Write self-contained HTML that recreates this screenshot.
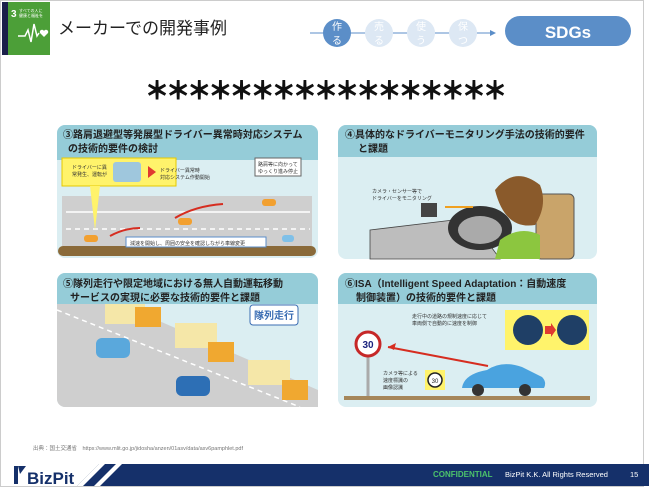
<!DOCTYPE html>
<html><head><meta charset="utf-8"><style>
body{margin:0;width:650px;height:488px;overflow:hidden;background:#fff;font-family:"Liberation Sans","Noto Sans CJK JP",sans-serif}
svg text{font-family:"Liberation Sans","Noto Sans CJK JP",sans-serif}
</style></head><body>
<svg width="650" height="488" viewBox="0 0 650 488">
<rect x="0.5" y="0.5" width="643" height="486" fill="#fff" stroke="#ccc"/>
<rect x="2" y="2" width="48" height="53" fill="#4c9f38"/>
<rect x="2" y="2" width="6" height="53" fill="#1a1f4a"/>
<text x="11" y="17" font-size="10" font-weight="bold" fill="#fff">3</text>
<text x="19" y="12" font-size="4" fill="#fff">すべての人に</text>
<text x="19" y="17" font-size="4" fill="#fff">健康と福祉を</text>
<polyline points="18,36 25,36 28,30 31,42 34,24 37,36 39,33" fill="none" stroke="#fff" stroke-width="1.5"/>
<path d="M44 37 l-4 -4 a2.2 2.2 0 0 1 4 -2 a2.2 2.2 0 0 1 4 2z" fill="#fff"/>
<text x="58" y="34" font-size="17" fill="#222">メーカーでの開発事例</text>
<line x1="310" y1="33" x2="492" y2="33" stroke="#5b8ec8" stroke-width="1"/>
<path d="M490 30 l6 3 l-6 3z" fill="#5b8ec8"/>
<circle cx="337" cy="33" r="14" fill="#5b8ec8"/>
<circle cx="379" cy="33" r="14" fill="#dde8f4"/>
<circle cx="421" cy="33" r="14" fill="#dde8f4"/>
<circle cx="463" cy="33" r="14" fill="#dde8f4"/>
<g font-size="10" fill="#fff" text-anchor="middle">
<text x="337" y="30">作</text><text x="337" y="44">る</text>
<text x="379" y="30">売</text><text x="379" y="44">る</text>
<text x="421" y="30">使</text><text x="421" y="44">う</text>
<text x="463" y="30">保</text><text x="463" y="44">つ</text>
</g>
<rect x="505" y="16" width="126" height="30" rx="15" fill="#5b8ec8"/>
<text x="568" y="38" font-size="17" font-weight="bold" fill="#fff" text-anchor="middle">SDGs</text>
<text x="145" y="99" font-size="24" fill="#111" stroke="#111" stroke-width="0.9" font-weight="bold" textLength="362" lengthAdjust="spacing" font-family="Noto Sans CJK JP">＊＊＊＊＊＊＊＊＊＊＊＊＊＊＊＊＊</text>

<rect x="57" y="125" width="261" height="133" rx="8" fill="#dbeef2"/>
<path d="M57 160 V133 a8 8 0 0 1 8 -8 H310 a8 8 0 0 1 8 8 V160z" fill="#95ccd8"/>
<text x="63" y="138" font-size="10" font-weight="bold" fill="#222">③路肩退避型等発展型ドライバー異常時対応システム</text>
<text x="68" y="152" font-size="10" font-weight="bold" fill="#222">の技術的要件の検討</text>
<rect x="62" y="196" width="250" height="50" fill="#cfcfcf"/>
<line x1="66" y1="212" x2="310" y2="212" stroke="#fff" stroke-width="1.5"/>
<line x1="66" y1="229" x2="310" y2="229" stroke="#fff" stroke-width="1.5" stroke-dasharray="5 4"/>
<rect x="58" y="246" width="258" height="10" rx="5" fill="#8a6a3a"/>
<rect x="62" y="158" width="114" height="28" fill="#fff36b" stroke="#e6c800"/>
<path d="M90 186 l5 44 l5 -44z" fill="#fff36b"/>
<rect x="113" y="162" width="28" height="20" rx="3" fill="#9fc7dd"/>
<path d="M148 166 l8 6 l-8 6z" fill="#e03a30"/>
<text x="72" y="169" font-size="5" fill="#333">ドライバーに異</text>
<text x="72" y="176" font-size="5" fill="#333">常発生、運転が</text>
<text x="160" y="172" font-size="5" fill="#333">ドライバー異常時</text>
<text x="160" y="179" font-size="5" fill="#333">対応システム作動開始</text>
<rect x="255" y="158" width="46" height="18" fill="#fff" stroke="#666"/>
<text x="258" y="166" font-size="5" fill="#333">路肩等に向かって</text>
<text x="258" y="173" font-size="5" fill="#333">ゆっくり進み停止</text>
<path d="M110 236 q15 -8 30 -8 M175 218 q20 -12 48 -14" fill="none" stroke="#d62d20" stroke-width="2"/>
<rect x="84" y="235" width="14" height="7" rx="3" fill="#f2a030"/>
<rect x="178" y="218" width="14" height="7" rx="3" fill="#f2a030"/>
<rect x="262" y="199" width="14" height="7" rx="3" fill="#f2a030"/>
<rect x="282" y="235" width="12" height="7" rx="3" fill="#7fc0e8"/>
<rect x="126" y="237" width="140" height="10" fill="#fff" stroke="#5b8ec8"/>
<text x="130" y="245" font-size="5" fill="#333">減速を開始し、周囲の安全を確認しながら車線変更</text>

<rect x="338" y="125" width="259" height="134" rx="8" fill="#dbeef2"/>
<path d="M338 157 V133 a8 8 0 0 1 8 -8 H589 a8 8 0 0 1 8 8 V157z" fill="#95ccd8"/>
<text x="345" y="138" font-size="10" font-weight="bold" fill="#222">④具体的なドライバーモニタリング手法の技術的要件</text>
<text x="358" y="152" font-size="10" font-weight="bold" fill="#222">と課題</text>
<path d="M370 230 L470 218 L500 259 H370z" fill="#bdbdbd" stroke="#444" stroke-width="0.8"/>
<ellipse cx="480" cy="228" rx="32" ry="22" fill="#333"/>
<ellipse cx="480" cy="230" rx="22" ry="14" fill="#aaa"/>
<rect x="536" y="194" width="38" height="65" rx="5" fill="#c9a46a" stroke="#555"/>
<path d="M500 240 q20 -15 40 -5 l0 24 h-45z" fill="#8cc63f"/>
<path d="M495 190 q20 -25 45 -5 q8 20 -5 40 q-30 5 -40 -35z" fill="#8a5a2b"/>
<rect x="421" y="203" width="16" height="14" fill="#444"/>
<path d="M445 207 h28" stroke="#f0a020" stroke-width="2"/>
<text x="372" y="193" font-size="5" fill="#333">カメラ・センサー等で</text>
<text x="372" y="200" font-size="5" fill="#333">ドライバーをモニタリング</text>

<rect x="57" y="273" width="261" height="134" rx="8" fill="#dbeef2"/>
<path d="M57 304 V281 a8 8 0 0 1 8 -8 H310 a8 8 0 0 1 8 8 V304z" fill="#95ccd8"/>
<text x="63" y="287" font-size="10" font-weight="bold" fill="#222">⑤隊列走行や限定地域における無人自動運転移動</text>
<text x="70" y="301" font-size="10" font-weight="bold" fill="#222">サービスの実現に必要な技術的要件と課題</text>
<path d="M57 304 H120 L318 390 V407 H65 a8 8 0 0 1 -8 -8z" fill="#cfcfcf"/>
<path d="M57 310 L300 407" stroke="#fff" stroke-width="1.5" stroke-dasharray="5 4"/>
<rect x="105" y="304" width="40" height="20" fill="#f5e7a8"/><rect x="135" y="307" width="26" height="20" fill="#f0a830"/>
<rect x="175" y="323" width="42" height="25" fill="#f5e7a8"/><rect x="208" y="342" width="26" height="20" fill="#f0a830"/>
<rect x="248" y="360" width="42" height="25" fill="#f5e7a8"/><rect x="282" y="380" width="26" height="20" fill="#f0a830"/>
<rect x="96" y="338" width="34" height="20" rx="6" fill="#5aa8dc"/>
<rect x="176" y="376" width="34" height="20" rx="6" fill="#2d6fb5"/>
<rect x="250" y="305" width="48" height="20" rx="3" fill="#fff" stroke="#3b6db3"/>
<text x="274" y="319" font-size="10" font-weight="bold" fill="#3b6db3" text-anchor="middle">隊列走行</text>

<rect x="338" y="273" width="259" height="134" rx="8" fill="#dbeef2"/>
<path d="M338 304 V281 a8 8 0 0 1 8 -8 H589 a8 8 0 0 1 8 8 V304z" fill="#95ccd8"/>
<text x="345" y="287" font-size="10" font-weight="bold" fill="#222">⑥ISA（Intelligent Speed Adaptation：自動速度</text>
<text x="356" y="301" font-size="10" font-weight="bold" fill="#222">制御装置）の技術的要件と課題</text>
<rect x="505" y="310" width="84" height="40" fill="#fff36b"/>
<circle cx="528" cy="330" r="15" fill="#1f3f66"/><circle cx="572" cy="330" r="15" fill="#1f3f66"/>
<path d="M545 326 h6 v-3 l5 7 l-5 7 v-3 h-6z" fill="#e03a30"/>
<text x="412" y="318" font-size="5" fill="#333">走行中の道路の規制速度に応じて</text>
<text x="412" y="325" font-size="5" fill="#333">車両側で自動的に速度を制御</text>
<line x1="368" y1="350" x2="368" y2="398" stroke="#aaa" stroke-width="3"/>
<circle cx="368" cy="344" r="12" fill="#fff" stroke="#c62828" stroke-width="3"/>
<text x="368" y="348" font-size="10" font-weight="bold" fill="#1a237e" text-anchor="middle">30</text>
<path d="M388 347 L488 366" stroke="#d62d20" stroke-width="2"/>
<path d="M388 347 l8 -4 l-2 7z" fill="#d62d20"/>
<rect x="425" y="370" width="20" height="20" fill="#fff36b"/>
<circle cx="435" cy="380" r="7" fill="#fff" stroke="#222" stroke-width="1.5"/>
<text x="435" y="383" font-size="6" text-anchor="middle" fill="#222">30</text>
<text x="383" y="375" font-size="5" fill="#333">カメラ等による</text>
<text x="383" y="382" font-size="5" fill="#333">速度標識の</text>
<text x="383" y="389" font-size="5" fill="#333">画像認識</text>
<path d="M462 388 q2 -14 25 -18 q15 -10 35 -3 l20 10 q5 5 2 11z" fill="#4aa3df"/>
<circle cx="478" cy="390" r="6" fill="#333"/><circle cx="525" cy="390" r="6" fill="#333"/>
<rect x="344" y="396" width="246" height="4" fill="#a5865a"/>

<text x="33" y="450" font-size="5.5" fill="#777">出典：国土交通省　https://www.mlit.go.jp/jidosha/anzen/01asv/data/asv6pamphlet.pdf</text>
<rect x="77" y="464" width="572" height="22" fill="#15306a"/>
<path d="M77 486 L99 464 H105 L83 486z" fill="#fff"/>
<path d="M94 486 L116 464 H122 L100 486z" fill="#fff"/>
<path d="M77 464 H99 L77 486z" fill="#fff"/>
<rect x="14" y="466" width="4" height="18" fill="#15306a"/>
<path d="M18 466 h8 l-6 8z" fill="#15306a"/>
<text x="27" y="484" font-size="17" font-weight="bold" fill="#15306a">BizPit</text>
<text x="433" y="477" font-size="8" font-weight="bold" fill="#4cc36b">CONFIDENTIAL</text>
<text x="505" y="477" font-size="7.5" fill="#fff">BizPit K.K. All Rights Reserved</text>
<text x="630" y="477" font-size="7.5" fill="#fff">15</text>
</svg>
</body></html>
